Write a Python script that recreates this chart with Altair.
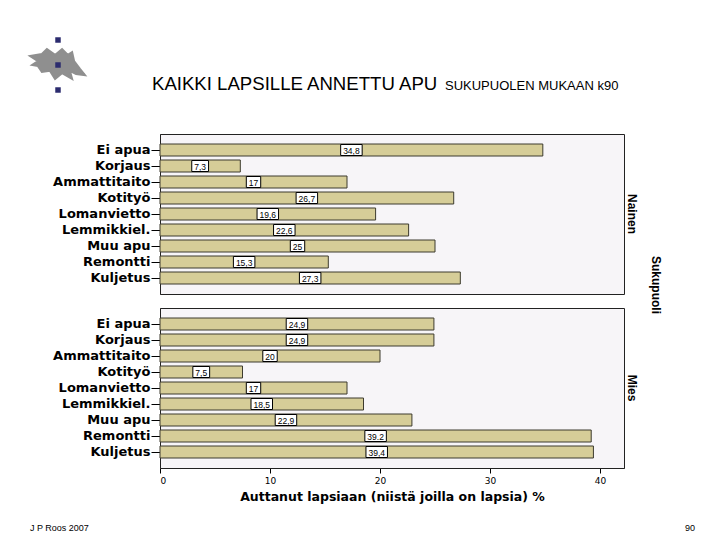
import altair as alt
import pandas as pd

categories = ["Ei apua", "Korjaus", "Ammattitaito", "Kotityö", "Lomanvietto",
              "Lemmikkiel.", "Muu apu", "Remontti", "Kuljetus"]
groups = ["Nainen", "Mies"]
nainen_values = [34.8, 7.3, 17.0, 26.7, 19.6, 22.6, 25.0, 15.3, 27.3]
nainen_labels = ["34,8", "7,3", "17", "26,7", "19,6", "22,6", "25", "15,3", "27,3"]
mies_values = [24.9, 24.9, 20.0, 7.5, 17.0, 18.5, 22.9, 39.2, 39.4]
mies_labels = ["24,9", "24,9", "20", "7,5", "17", "18,5", "22,9", "39.2", "39,4"]
x_ticks = [0, 10, 20, 30, 40]

rows = []
for g, vals, labs in [("Nainen", nainen_values, nainen_labels), ("Mies", mies_values, mies_labels)]:
    for c, v, l in zip(categories, vals, labs):
        rows.append({"sex": g, "cat": c, "value": v, "label": l})
df = pd.DataFrame(rows)

W, H = 464, 160
XMAX = 42.18
PXU = W / XMAX

BAR = "#d6cd98"
X_TITLE = "Auttanut lapsiaan (niistä joilla on lapsia) %"

xscale = alt.Scale(domain=[0, XMAX], nice=False, zero=True)
xaxis = alt.Axis(values=x_ticks, title=X_TITLE, grid=False, labelFont="DejaVu Sans",
                 labelFontSize=9, labelColor="black", tickColor="black", tickSize=5,
                 domainColor="black", labelPadding=3, titleFont="DejaVu Sans",
                 titleFontWeight="bold", titleFontSize=12.5, titleColor="black", titlePadding=5)
yscale = alt.Scale(paddingInner=0.25, paddingOuter=0.625)
yaxis = alt.Axis(title=None, labelFont="DejaVu Sans", labelFontWeight="bold", labelFontSize=13,
                 labelColor="black", tickColor="black", tickSize=9, domainColor="black",
                 labelPadding=1)

def X(field):
    return alt.X(field, scale=xscale, axis=xaxis, title=X_TITLE)

def Y():
    return alt.Y("cat:N", sort=categories, scale=yscale, axis=yaxis)

bars = alt.Chart().mark_bar(fill=BAR, stroke="#3d3b2e", strokeWidth=1).encode(
    x=X("value:Q"), y=Y())

calc = dict(
    mid="datum.value / 2",
    nch="length(datum.label) - ((indexof(datum.label, ',') >= 0 || indexof(datum.label, '.') >= 0) ? 1 : 0)",
)
boxes = alt.Chart().transform_calculate(**calc).transform_calculate(
    hw="(datum.nch * 4.7 + (length(datum.label) - datum.nch) * 2.4 + 5) / 2 / %f" % PXU
).transform_calculate(
    lo="datum.mid - datum.hw", hi="datum.mid + datum.hw"
).mark_bar(fill="white", stroke="black", strokeWidth=1, height=11).encode(
    x=X("lo:Q"), x2="hi:Q", y=Y())

labels = alt.Chart().transform_calculate(mid="datum.value / 2").mark_text(
    font="Liberation Sans", fontSize=8.5, color="black", baseline="middle", align="center", dy=0.5
).encode(x=X("mid:Q"), y=Y(), text="label:N")

top_f = "datum.sex == 'Nainen' && datum.cat == 'Ei apua'"
bot_f = "datum.sex == 'Mies' && datum.cat == 'Ei apua'"

title_main = alt.Chart().transform_filter(top_f).mark_text(
    text="KAIKKI LAPSILLE ANNETTU APU", font="Liberation Sans", fontSize=18.6,
    align="left", baseline="alphabetic", color="black"
).encode(x=alt.value(-8), y=alt.value(-44))
title_sub = alt.Chart().transform_filter(top_f).mark_text(
    text="SUKUPUOLEN MUKAAN k90", font="Liberation Sans", fontSize=13,
    align="left", baseline="alphabetic", color="black"
).encode(x=alt.value(285), y=alt.value(-44))

blob_path = ("M-0.96,-0.32 L-0.54,-0.39 L-0.36,-0.57 L-0.07,-0.36 L0.18,-0.57 L0.39,-0.36 "
             "L0.54,-0.46 L0.61,-0.14 L0.82,0.14 L1,0.36 L0.68,0.32 L0.46,0.21 L0.54,0.5 "
             "L0.18,0.29 L-0.07,0.5 L-0.25,0.21 L-0.54,0.25 L-0.68,0.04 L-0.89,0 L-0.68,-0.14 Z")
blob = alt.Chart().transform_filter(top_f).mark_point(
    shape=blob_path, filled=True, fill="#8f8f8f", stroke="#8f8f8f", opacity=1, size=3136
).encode(x=alt.value(-103), y=alt.value(-69))

squares = []
for yy in (-94, -69, -44):
    squares.append(alt.Chart().transform_filter(top_f).mark_square(
        filled=True, color="#2b2b6e", opacity=1, size=30
    ).encode(x=alt.value(-102), y=alt.value(yy)))

foot_l = alt.Chart().transform_filter(bot_f).mark_text(
    text="J P Roos 2007", font="Liberation Sans", fontSize=9, align="left",
    baseline="middle", color="black"
).encode(x=alt.value(-130), y=alt.value(220))
foot_r = alt.Chart().transform_filter(bot_f).mark_text(
    text="90", font="Liberation Sans", fontSize=9, align="right",
    baseline="middle", color="black"
).encode(x=alt.value(535), y=alt.value(220))

layered = alt.layer(bars, boxes, labels, title_main, title_sub, blob, *squares, foot_l, foot_r,
                    data=df).properties(width=W, height=H)

chart = layered.facet(
    row=alt.Row("sex:N", sort=groups, header=alt.Header(
        labelOrient="right", labelAngle=90, labelFont="Liberation Sans", labelFontWeight="bold",
        labelFontSize=12, labelColor="black", labelPadding=1,
        title="Sukupuoli", titleOrient="right", titleAngle=90, titleFont="Liberation Sans",
        titleFontWeight="bold", titleFontSize=12, titleColor="black", titlePadding=1)),
    spacing=14, bounds="flush",
).properties(
    padding={"left": 17, "top": 28, "right": 5, "bottom": 5}
).configure_view(fill="#f7f5f8", stroke="#222222", strokeWidth=1)

chart.save("out.html", embed_options={"renderer": "svg", "actions": False})
